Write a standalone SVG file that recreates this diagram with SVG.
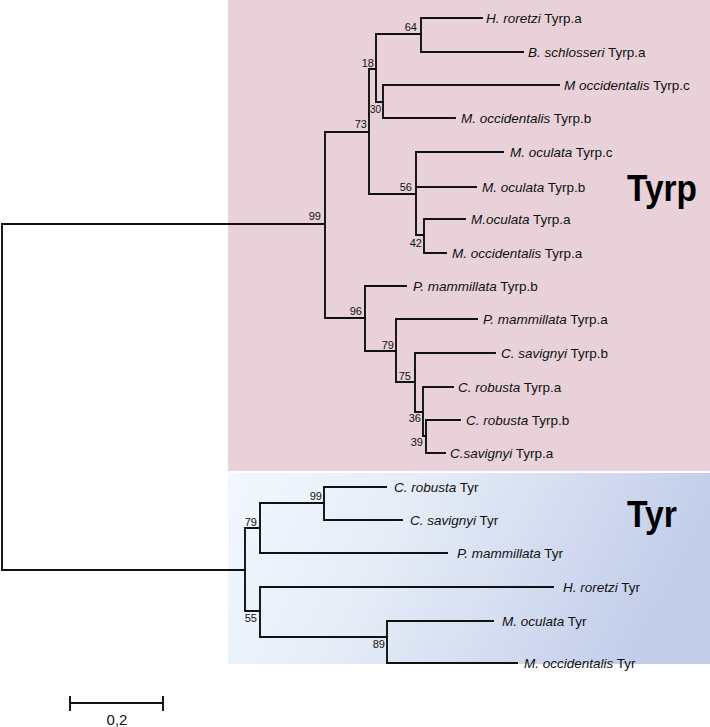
<svg xmlns="http://www.w3.org/2000/svg" width="710" height="727" viewBox="0 0 710 727">
<defs>
<linearGradient id="blueGrad" x1="0" y1="0" x2="1" y2="0.2">
<stop offset="0" stop-color="#f2f8fd"/>
<stop offset="0.4" stop-color="#e5ecf7"/>
<stop offset="1" stop-color="#c3cdea"/>
</linearGradient>
</defs>
<style>
.br{fill:none;stroke:#111;stroke-width:1.9;stroke-linecap:square}
.lf{font-family:"Liberation Sans",Arial,sans-serif;font-size:13.5px;fill:#111}
.sp{font-style:italic}
.bs{font-family:"Liberation Sans",Arial,sans-serif;font-size:11px;fill:#111;text-anchor:end}
.big{font-family:"Liberation Sans",Arial,sans-serif;font-weight:bold;font-size:36px;fill:#000}
</style>
<rect width="710" height="727" fill="#fff"/>
<rect id="tyrp-box" x="228" y="0" width="482" height="471" fill="#e8d1d8"/>
<rect id="tyr-box" x="228" y="473" width="482" height="191" fill="url(#blueGrad)"/>
<text class="big" x="627" y="201" textLength="70" lengthAdjust="spacingAndGlyphs">Tyrp</text>
<text class="big" x="627" y="527" textLength="50" lengthAdjust="spacingAndGlyphs">Tyr</text>

<g id="connectors" class="br">
<path d="M2 224 V570 M2 224 H325 M2 570 H245"/>
<path d="M325 132 V318 M325 132 H369 M325 318 H365"/>
<path d="M369 69 V194 M369 69 H376 M369 194 H416"/>
<path d="M376 34 V102 M376 34 H421 M376 102 H383"/>
<path d="M421 18 V52 M421 18 H482 M421 52 H523"/>
<path d="M383 85 V118 M383 85 H559 M383 118 H455"/>
<path d="M416 152 V235 M416 152 H503 M416 187 H476 M416 235 H424"/>
<path d="M424 219 V253 M424 219 H465 M424 253 H446"/>
<path d="M365 286 V351 M365 286 H406 M365 351 H396"/>
<path d="M396 319 V382 M396 319 H477 M396 382 H415"/>
<path d="M415 353 V412 M415 353 H495 M415 412 H423"/>
<path d="M423 387 V436 M423 387 H453 M423 436 H426"/>
<path d="M426 420 V453 M426 420 H460 M426 453 H445"/>
<path d="M245 528 V611 M245 528 H260 M245 611 H260"/>
<path d="M260 503 V553 M260 503 H324 M260 553 H447"/>
<path d="M324 487 V520 M324 487 H386 M324 520 H402"/>
<path d="M260 587 V637 M260 587 H553 M260 637 H387"/>
<path d="M387 621 V663 M387 621 H493 M387 663 H517"/>
</g>

<g id="n-tyrp99"><text class="bs" x="321" y="220">99</text></g>
<g id="n-73"><text class="bs" x="367" y="128">73</text></g>
<g id="n-18"><text class="bs" x="374" y="67">18</text></g>
<g id="n-64"><text class="bs" x="417" y="31">64</text></g>
<g id="n-30"><text class="bs" x="381" y="113" style="font-size:10px">30</text></g>
<g id="n-56"><text class="bs" x="412" y="191">56</text></g>
<g id="n-42"><text class="bs" x="422" y="247">42</text></g>
<g id="n-96"><text class="bs" x="362" y="315">96</text></g>
<g id="n-79a"><text class="bs" x="394" y="349">79</text></g>
<g id="n-75"><text class="bs" x="411" y="380">75</text></g>
<g id="n-36"><text class="bs" x="421" y="422">36</text></g>
<g id="n-39"><text class="bs" x="423" y="446">39</text></g>
<g id="n-tyr99"><text class="bs" x="322" y="500">99</text></g>
<g id="n-79b"><text class="bs" x="257" y="526">79</text></g>
<g id="n-55"><text class="bs" x="257" y="622">55</text></g>
<g id="n-89"><text class="bs" x="385" y="648">89</text></g>

<g id="l-hrot-tyrpa"><text class="lf" x="486" y="23"><tspan class="sp">H. roretzi</tspan> Tyrp.a</text></g>
<g id="l-bsch-tyrpa"><text class="lf" x="528" y="57"><tspan class="sp">B. schlosseri</tspan> Tyrp.a</text></g>
<g id="l-mocc-tyrpc"><text class="lf" x="564" y="90"><tspan class="sp">M occidentalis</tspan> Tyrp.c</text></g>
<g id="l-mocc-tyrpb"><text class="lf" x="461" y="123"><tspan class="sp">M. occidentalis</tspan> Tyrp.b</text></g>
<g id="l-mocu-tyrpc"><text class="lf" x="510" y="157"><tspan class="sp">M. oculata</tspan> Tyrp.c</text></g>
<g id="l-mocu-tyrpb"><text class="lf" x="482" y="192"><tspan class="sp">M. oculata</tspan> Tyrp.b</text></g>
<g id="l-mocu-tyrpa"><text class="lf" x="471" y="224"><tspan class="sp">M.oculata</tspan> Tyrp.a</text></g>
<g id="l-mocc-tyrpa"><text class="lf" x="452" y="258"><tspan class="sp">M. occidentalis</tspan> Tyrp.a</text></g>
<g id="l-pmam-tyrpb"><text class="lf" x="413" y="291"><tspan class="sp">P. mammillata</tspan> Tyrp.b</text></g>
<g id="l-pmam-tyrpa"><text class="lf" x="483" y="324"><tspan class="sp">P. mammillata</tspan> Tyrp.a</text></g>
<g id="l-csav-tyrpb"><text class="lf" x="501" y="358"><tspan class="sp">C. savignyi</tspan> Tyrp.b</text></g>
<g id="l-crob-tyrpa"><text class="lf" x="458" y="392"><tspan class="sp">C. robusta</tspan> Tyrp.a</text></g>
<g id="l-crob-tyrpb"><text class="lf" x="466" y="425"><tspan class="sp">C. robusta</tspan> Tyrp.b</text></g>
<g id="l-csav-tyrpa"><text class="lf" x="450" y="458"><tspan class="sp">C.savignyi</tspan> Tyrp.a</text></g>
<g id="l-crob-tyr"><text class="lf" x="394" y="492"><tspan class="sp">C. robusta</tspan> Tyr</text></g>
<g id="l-csav-tyr"><text class="lf" x="410" y="525"><tspan class="sp">C. savignyi</tspan> Tyr</text></g>
<g id="l-pmam-tyr"><text class="lf" x="457" y="558"><tspan class="sp">P. mammillata</tspan> Tyr</text></g>
<g id="l-hrot-tyr"><text class="lf" x="563" y="592"><tspan class="sp">H. roretzi</tspan> Tyr</text></g>
<g id="l-mocu-tyr"><text class="lf" x="502" y="626"><tspan class="sp">M. oculata</tspan> Tyr</text></g>
<g id="l-mocc-tyr"><text class="lf" x="524" y="668"><tspan class="sp">M. occidentalis</tspan> Tyr</text></g>

<g id="scale-bar">
<path class="br" d="M70 703 H163 M70 697 V710 M163 697 V710"/>
<text x="117" y="725" text-anchor="middle" style="font-family:'Liberation Sans',Arial,sans-serif;font-size:15px;fill:#111">0,2</text>
</g>
</svg>
